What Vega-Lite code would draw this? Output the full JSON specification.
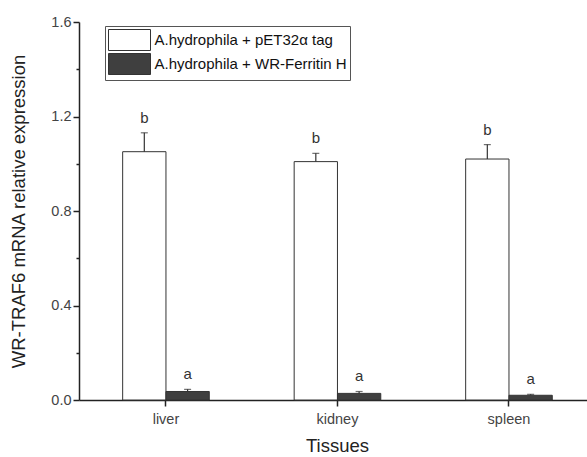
{
  "$schema": "https://vega.github.io/schema/vega-lite/v6.json",
  "width": 508,
  "height": 378,
  "autosize": "none",
  "padding": {"left": 79, "top": 22, "right": 0, "bottom": 57},
  "background": "white",
  "config": {
    "view": {"stroke": null},
    "font": "Liberation Sans",
    "axis": {
      "grid": false,
      "domainColor": "#222",
      "domainWidth": 1.5,
      "tickColor": "#222",
      "tickWidth": 1.5,
      "labelColor": "#444",
      "labelFontSize": 14.5,
      "labelFont": "Liberation Sans",
      "titleFont": "Liberation Sans",
      "titleFontWeight": "normal",
      "titleColor": "#222",
      "titleFontSize": 18.5
    }
  },
  "data": {
    "values": [
      {"tissue": "liver", "group": "A.hydrophila + pET32α tag", "value": 1.051, "upper": 1.131, "sig": "b"},
      {"tissue": "liver", "group": "A.hydrophila + WR-Ferritin H", "value": 0.036, "upper": 0.045, "sig": "a"},
      {"tissue": "kidney", "group": "A.hydrophila + pET32α tag", "value": 1.009, "upper": 1.044, "sig": "b"},
      {"tissue": "kidney", "group": "A.hydrophila + WR-Ferritin H", "value": 0.028, "upper": 0.036, "sig": "a"},
      {"tissue": "spleen", "group": "A.hydrophila + pET32α tag", "value": 1.02, "upper": 1.081, "sig": "b"},
      {"tissue": "spleen", "group": "A.hydrophila + WR-Ferritin H", "value": 0.02, "upper": 0.024, "sig": "a"}
    ]
  },
  "encoding": {
    "x": {
      "field": "tissue",
      "type": "nominal",
      "sort": ["liver", "kidney", "spleen"],
      "scale": {"paddingInner": 0.495, "paddingOuter": 0.2285, "align": 0.557},
      "axis": {"title": "Tissues", "labelAngle": 0, "tickSize": 6, "labelPadding": 6, "titlePadding": 11, "titleX": 258}
    },
    "xOffset": {
      "field": "group",
      "type": "nominal",
      "sort": ["A.hydrophila + pET32α tag", "A.hydrophila + WR-Ferritin H"],
      "scale": {"paddingInner": 0, "paddingOuter": 0}
    }
  },
  "layer": [
    {
      "mark": {"type": "bar", "stroke": "#333", "strokeWidth": 1},
      "encoding": {
        "y": {
          "field": "value",
          "type": "quantitative",
          "scale": {"domain": [0, 1.6], "nice": false, "zero": true},
          "axis": {
            "title": "WR-TRAF6 mRNA relative expression",
            "values": [0, 0.2, 0.4, 0.6, 0.8, 1.0, 1.2, 1.4, 1.6],
            "labelExpr": "round(datum.value*10) % 4 === 0 ? format(datum.value, '.1f') : ''",
            "tickSize": {"condition": {"test": "round(datum.value*10) % 4 === 0", "value": 6}, "value": 3},
            "labelPadding": 2,
            "titlePadding": 22
          }
        },
        "fill": {
          "field": "group",
          "type": "nominal",
          "scale": {
            "domain": ["A.hydrophila + pET32α tag", "A.hydrophila + WR-Ferritin H"],
            "range": ["#ffffff", "#3f3f3f"]
          },
          "legend": {
            "orient": "none",
            "legendX": 26,
            "legendY": 4,
            "title": null,
            "strokeColor": "#555",
            "padding": 3,
            "symbolType": "M-2,-1H2V1H-2Z",
            "symbolSize": 441,
            "symbolOffset": 10.5,
            "symbolStrokeColor": "#333",
            "symbolStrokeWidth": 1,
            "symbolOpacity": 1,
            "labelFontSize": 15,
            "labelColor": "#111",
            "labelOffset": 14,
            "rowPadding": -4,
            "labelLimit": 300
          }
        }
      }
    },
    {
      "mark": {"type": "rule", "color": "#333", "strokeWidth": 1.2},
      "encoding": {
        "y": {"field": "value", "type": "quantitative"},
        "y2": {"field": "upper"}
      }
    },
    {
      "mark": {"type": "tick", "orient": "horizontal", "size": 7, "thickness": 1.2, "color": "#333"},
      "encoding": {
        "y": {"field": "upper", "type": "quantitative"}
      }
    },
    {
      "mark": {"type": "text", "dy": -7, "baseline": "bottom", "fontSize": 15, "color": "#333"},
      "encoding": {
        "y": {"field": "upper", "type": "quantitative"},
        "text": {"field": "sig"}
      }
    }
  ]
}
